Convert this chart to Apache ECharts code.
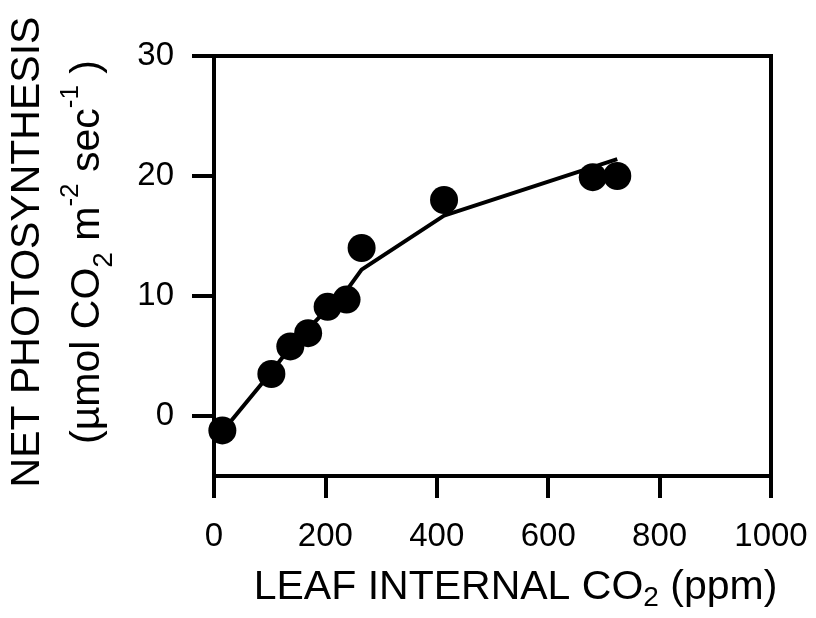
<!DOCTYPE html>
<html>
<head>
<meta charset="utf-8">
<script src="https://cdn.jsdelivr.net/npm/echarts@6/dist/echarts.min.js"></script>
<style>
  html, body { margin: 0; padding: 0; background: #fff; }
  #chart_container { width: 816px; height: 618px; }
</style>
</head>
<body>
<div id="chart_container"></div>
<script>
// measured points
const co2Points = [15, 103, 137, 169, 204, 238, 265, 413, 680, 724]
const photoPoints = [-1.2, 3.5, 5.8, 6.9, 9.1, 9.7, 14.0, 18.0, 19.9, 20.0]
// fitted line
const fitCo2 = [15, 100, 135, 170, 205, 240, 265, 413, 724]
const fitPhoto = [-1.3, 3.5, 5.6, 7.3, 9.0, 10.6, 12.2, 16.7, 21.4]
// axis ticks
const xTicks = [0, 200, 400, 600, 800, 1000]
const yTicks = [0, 10, 20, 30]

const font = '"Liberation Sans", Arial, Helvetica, sans-serif'

let chartPlot = echarts.init(document.getElementById('chart_container'))

let option = {
  animation: false,
  grid: {
    left: 214,
    right: 45,
    top: 56,
    bottom: 142,
    show: true,
    borderColor: '#000',
    borderWidth: 4,
    outerBoundsMode: 'none',
  },
  xAxis: {
    type: 'value',
    min: xTicks[0],
    max: xTicks[xTicks.length - 1],
    interval: 200,
    splitLine: { show: false },
    axisLine: { onZero: false, lineStyle: { color: '#000', width: 4 } },
    axisTick: { show: true, length: 22, lineStyle: { color: '#000', width: 4 } },
    axisLabel: {
      color: '#000',
      fontSize: 33,
      fontFamily: font,
      margin: 44,
      showMinLabel: true,
      showMaxLabel: true,
      formatter: (v) => String(v),
    },
    name: '{a|LEAF INTERNAL CO}{sub|2}{a| (ppm)}',
    nameLocation: 'middle',
    nameGap: 88,
    nameTextStyle: {
      padding: [0, 0, 0, 46],
      rich: {
        a: { fontSize: 41, lineHeight: 48, color: '#000', fontFamily: font },
        sub: { fontSize: 28, lineHeight: 22, verticalAlign: 'bottom', color: '#000', fontFamily: font },
      },
    },
  },
  yAxis: {
    type: 'value',
    min: -5,
    max: 30,
    splitLine: { show: false },
    axisLine: { onZero: false, lineStyle: { color: '#000', width: 4 } },
    axisTick: { show: true, length: 22, customValues: yTicks, lineStyle: { color: '#000', width: 4 } },
    axisLabel: {
      color: '#000',
      fontSize: 33,
      fontFamily: font,
      margin: 40,
      customValues: yTicks,
    },
    name: '{a|NET PHOTOSYNTHESIS}\n{a|(µmol CO}{sub|2}{a| m}{sup|-2}{a| sec}{sup|-1}{a| )}',
    nameLocation: 'middle',
    nameRotate: 90,
    nameGap: 96,
    nameTextStyle: {
      padding: [0, 0, 0, 28],
      rich: {
        a: { fontSize: 41, lineHeight: 60, color: '#000', fontFamily: font },
        sub: { fontSize: 28, lineHeight: 34, verticalAlign: 'bottom', color: '#000', fontFamily: font },
        sup: { fontSize: 26, lineHeight: 32, verticalAlign: 'top', color: '#000', fontFamily: font },
      },
    },
  },
  series: [
    {
      type: 'line',
      data: fitCo2.map((x, i) => [x, fitPhoto[i]]),
      symbol: 'none',
      lineStyle: { color: '#000', width: 4 },
      z: 2,
    },
    {
      type: 'scatter',
      data: co2Points.map((x, i) => [x, photoPoints[i]]),
      symbol: 'circle',
      symbolSize: 28,
      itemStyle: { color: '#000', opacity: 1 },
      z: 3,
    },
  ],
}

chartPlot.setOption(option)
</script>
</body>
</html>
